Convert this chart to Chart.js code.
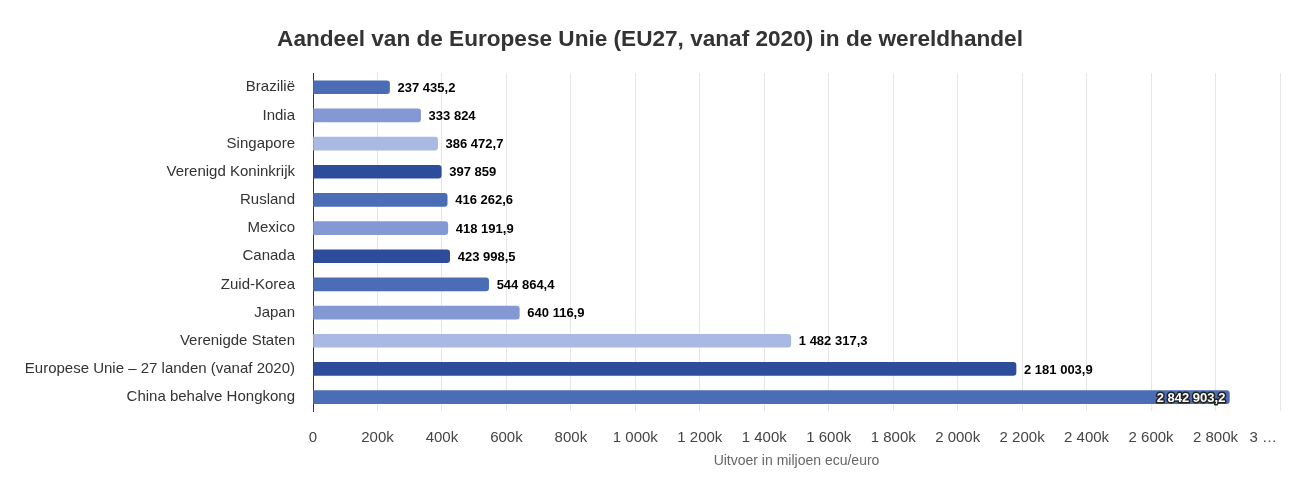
<!DOCTYPE html>
<html lang="nl">
<head>
  <meta charset="UTF-8">
  <title>Aandeel van de Europese Unie in de wereldhandel</title>
  <script src="https://cdn.jsdelivr.net/npm/chart.js"></script>
  <style>
    html, body { margin: 0; padding: 0; background: #fff; }
    #wrap { width: 1300px; height: 493px; }
  </style>
</head>
<body>
<div id="wrap"><canvas id="chart"></canvas></div>
<script>
  const landen = [
    'Brazilië', 'India', 'Singapore', 'Verenigd Koninkrijk', 'Rusland', 'Mexico',
    'Canada', 'Zuid-Korea', 'Japan', 'Verenigde Staten',
    'Europese Unie – 27 landen (vanaf 2020)', 'China behalve Hongkong'
  ];
  const uitvoer = [
    237435.2, 333824, 386472.7, 397859, 416262.6, 418191.9,
    423998.5, 544864.4, 640116.9, 1482317.3, 2181003.9, 2842903.2
  ];
  const kleuren = [
    '#4a6db6', '#8499d4', '#a9b9e4', '#2d4c9b', '#4a6db6', '#8499d4',
    '#2d4c9b', '#4a6db6', '#8499d4', '#a9b9e4', '#2d4c9b', '#4a6db6'
  ];
  const xTicks = [0, 200000, 400000, 600000, 800000, 1000000, 1200000, 1400000,
    1600000, 1800000, 2000000, 2200000, 2400000, 2600000, 2800000, 3000000];

  function fmt(v) {
    let [heel, dec] = v.toFixed(1).split('.');
    heel = heel.replace(/\B(?=(\d{3})+(?!\d))/g, ' ');
    return dec === '0' ? heel : heel + ',' + dec;
  }

  function tickLabel(v) {
    if (v === 0) return '0';
    // afgekapt label aan de rechterrand, iets naar links geschoven
    if (v === 3000000) return '3 …' + '\u00a0'.repeat(8);
    return fmt(v / 1000) + 'k';
  }

  // waarden naast de balken (laatste binnen de balk)
  const waardeLabels = {
    id: 'waardeLabels',
    afterDatasetsDraw(chart) {
      const ctx = chart.ctx;
      const meta = chart.getDatasetMeta(0);
      ctx.save();
      ctx.font = 'bold 13px "Liberation Sans", Arial, sans-serif';
      ctx.textBaseline = 'middle';
      meta.data.forEach((bar, i) => {
        const txt = fmt(uitvoer[i]);
        const w = ctx.measureText(txt).width;
        if (bar.x + 8 + w > chart.chartArea.right) {
          ctx.textAlign = 'right';
          ctx.lineWidth = 3;
          ctx.strokeStyle = '#222';
          ctx.lineJoin = 'round';
          ctx.strokeText(txt, bar.x - 4, bar.y + 1);
          ctx.fillStyle = '#fff';
          ctx.fillText(txt, bar.x - 4, bar.y + 1);
        } else {
          ctx.textAlign = 'left';
          ctx.fillStyle = '#000';
          ctx.fillText(txt, bar.x + 8, bar.y + 1);
        }
      });
      ctx.restore();
    }
  };

  new Chart(document.getElementById('chart'), {
    type: 'bar',
    data: {
      labels: landen,
      datasets: [{
        data: uitvoer,
        backgroundColor: kleuren,
        barThickness: 13,
        borderRadius: 3,
        borderSkipped: 'start'
      }]
    },
    options: {
      indexAxis: 'y',
      responsive: true,
      maintainAspectRatio: false,
      animation: false,
      layout: { padding: { left: 0, right: 0, top: 0, bottom: 19 } },
      plugins: {
        legend: { display: false },
        tooltip: { enabled: false },
        title: {
          display: true,
          text: 'Aandeel van de Europese Unie (EU27, vanaf 2020) in de wereldhandel',
          color: '#333',
          font: { family: '"Liberation Sans", Arial, sans-serif', size: 22.6, weight: 'bold' },
          padding: { top: 26, bottom: 20 }
        }
      },
      scales: {
        x: {
          min: 0,
          max: 3000000,
          afterBuildTicks(scale) { scale.ticks = xTicks.map(v => ({ value: v })); },
          afterFit(scale) { scale.paddingRight = 20; scale.paddingLeft = 0; },
          grid: { color: '#e6e6e6', drawTicks: false },
          border: { display: false },
          ticks: {
            color: '#444',
            padding: 18,
            maxRotation: 0,
            autoSkip: false,
            font: { family: '"Liberation Sans", Arial, sans-serif', size: 15 },
            callback: v => tickLabel(v)
          },
          title: {
            display: true,
            text: 'Uitvoer in miljoen ecu/euro',
            color: '#666',
            font: { family: '"Liberation Sans", Arial, sans-serif', size: 14 },
            padding: { top: -12, bottom: 4 }
          }
        },
        y: {
          afterFit(scale) { scale.width = 313; },
          grid: { display: false },
          border: { display: true, color: '#333', width: 1 },
          ticks: {
            color: '#333',
            padding: 10,
            font: { family: '"Liberation Sans", Arial, sans-serif', size: 15 }
          }
        }
      }
    },
    plugins: [waardeLabels]
  });
</script>
</body>
</html>
